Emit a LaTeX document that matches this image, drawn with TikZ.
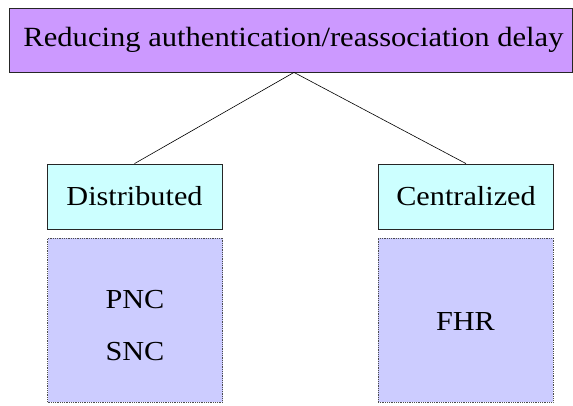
\documentclass[tikz,border=0pt]{standalone}
\usepackage{fontspec}
\setmainfont{Liberation Serif}[FakeStretch=1.1]
\definecolor{goalfill}{HTML}{CC99FF}
\definecolor{kindfill}{HTML}{CCFFFF}
\definecolor{schemefill}{HTML}{CCCCFF}
\tikzset{
	goalbox/.style={draw=black!85, line width=0.8pt, fill=goalfill, inner sep=0pt,
		minimum width=563pt, minimum height=64pt, font=\fontsize{27.8}{33}\selectfont},
	kindbox/.style={draw=black!85, line width=0.8pt, fill=kindfill, inner sep=0pt,
		minimum width=175pt, minimum height=65pt},
	schemebox/.style={draw=black!70, line width=0.8pt, densely dotted, fill=schemefill,
		inner sep=0pt, minimum width=175pt, minimum height=164pt},
}
\begin{document}
\begin{tikzpicture}[x=1pt, y=-1pt, font=\fontsize{27.5}{52}\selectfont]
		\useasboundingbox (0,0) rectangle (573,405);
		\node [goalbox] (goal) at (290.5,40) {\hspace*{6pt}Reducing authentication/reassociation delay};
		\node [kindbox] (dist) at (134.5,196.5) {Distributed};
		\node [kindbox] (cent) at (466,196.5) {Centralized};
		% extra room on top pushes the text down a little
		\node [schemebox] (distlist) at (135,320)
			{\raisebox{0pt}[\dimexpr\height+9pt][\depth]{\begin{tabular}{@{}c@{}}PNC\\SNC\end{tabular}}};
		\node [schemebox] (centlist) at (465.5,320)
			{\raisebox{0pt}[\dimexpr\height+3pt][\depth]{FHR}};
		\coordinate (apex) at ([xshift=3.5pt]goal.south);
		\draw [line width=0.6pt] (apex) -- (dist.north);
		\draw [line width=0.6pt] (apex) -- (cent.north);
	\end{tikzpicture}
\end{document}
